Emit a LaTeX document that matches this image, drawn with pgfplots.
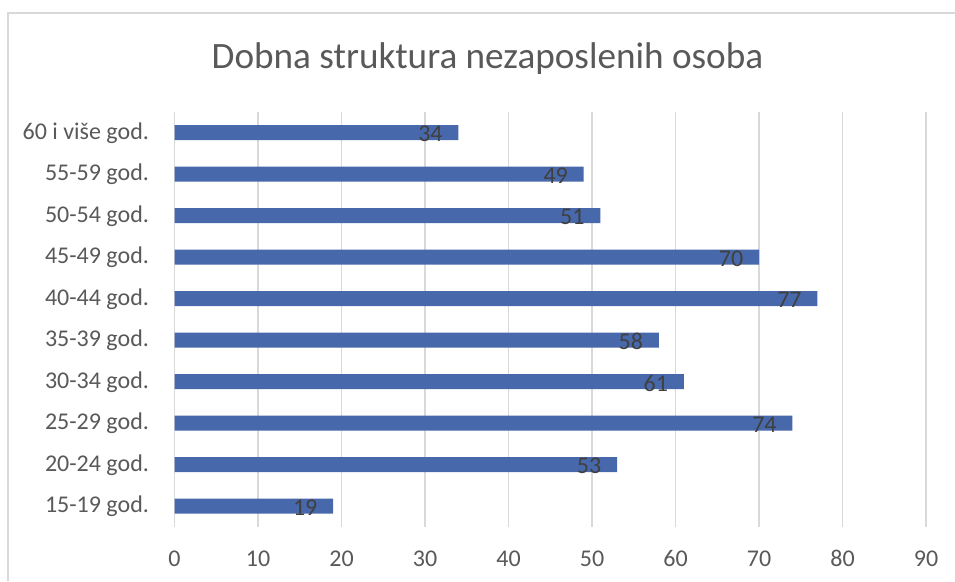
\documentclass[border=0pt]{standalone}
\usepackage{pgfplots}
\pgfplotsset{compat=1.18}
\usepackage{fontspec}
\setmainfont{Carlito}
\definecolor{barblue}{HTML}{4868AC}
\definecolor{txtgray}{HTML}{595959}
\definecolor{lblgray}{HTML}{404040}
\definecolor{gridgray}{HTML}{D9D9D9}
\begin{document}
\begin{tikzpicture}
\useasboundingbox (0,0) rectangle (716.25pt,435.75pt);
\fill[white] (0,0) rectangle (716.25pt,435.75pt);
\draw[gridgray, line width=0.8pt] (6pt,0) -- (6pt,426pt) -- (716.25pt,426pt);
\node[anchor=base, text=txtgray, font=\fontsize{27.9pt}{32pt}\selectfont] at (365.6pt,384pt) {Dobna struktura nezaposlenih osoba};
\begin{axis}[
  at={(130.9pt,40.5pt)}, anchor=south west,
  scale only axis, width=563.6pt, height=311.25pt,
  xbar, bar width=11.25pt,
  xmin=0, xmax=90, ymin=-0.5, ymax=9.5,
  xtick={0,10,...,90},
  ytick={0,...,9},
  yticklabels={15-19 god.,20-24 god.,25-29 god.,30-34 god.,35-39 god.,40-44 god.,45-49 god.,50-54 god.,55-59 god.,60 i više god.},
  axis line style={draw=none},
  major tick length=0pt,
  xmajorgrids, grid style={gridgray, line width=0.9pt},
  /pgf/number format/assume math mode=true,
  tick label style={text=txtgray, font=\fontsize{18pt}{21pt}\selectfont},
  xticklabel style={anchor=base, yshift=-29.25pt},
  yticklabel style={anchor=east, inner sep=0pt, xshift=-19pt},
  nodes near coords,
  nodes near coords style={anchor=center, xshift=-21pt, yshift=-1pt, text=lblgray, font=\fontsize{18pt}{21pt}\selectfont},
]
\addplot[fill=barblue, draw=none] coordinates {
  (19,0) (53,1) (74,2) (61,3) (58,4) (77,5) (70,6) (51,7) (49,8) (34,9)
};
\end{axis}
\end{tikzpicture}
\end{document}
